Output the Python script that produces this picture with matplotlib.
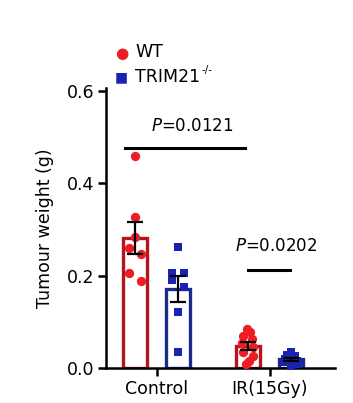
import numpy as np
import matplotlib
matplotlib.use("Agg")
import matplotlib.pyplot as plt

plt.rcParams['font.family'] = ['DejaVu Sans']
plt.rcParams['mathtext.fontset'] = 'dejavusans'

groups = ['Control', 'IR(15Gy)']
wt_ctrl = [0.459, 0.327, 0.284, 0.260, 0.247, 0.206, 0.188]
ko_ctrl = [0.262, 0.206, 0.206, 0.190, 0.175, 0.121, 0.035]
wt_ir = [0.085, 0.078, 0.070, 0.062, 0.055, 0.045, 0.035, 0.025, 0.015, 0.008]
ko_ir = [0.035, 0.028, 0.025, 0.020, 0.015, 0.012, 0.008, 0.005]
p_vals = ['0.0121', '0.0202']

wt_red = '#ee1c24'
wt_edge = '#b5141e'
ko_blue = '#1a22b0'
ko_edge = '#1c2a8c'

# jitter offsets for dots (fraction of bar width)
wt_ctrl_dx = [0, 0, 0, -0.25, 0.25, -0.25, 0.25]
ko_ctrl_dx = [0, -0.25, 0.25, -0.25, 0.25, 0, 0]
wt_ir_dx = [-0.05, 0.1, -0.2, 0.15, -0.25, 0.2, -0.2, 0.2, 0.05, -0.1]
ko_ir_dx = [0, -0.15, 0.15, -0.25, 0.25, -0.3, 0.3, 0]

fig = plt.figure(figsize=(3.53, 4.03), dpi=100)
ax = fig.add_axes([0.300, 0.087, 0.649, 0.695])

off = 0.19
w = 0.21
x = np.arange(len(groups))

def draw(xc, vals, dx, fc, ec, marker, s):
    vals = np.array(vals)
    m = vals.mean()
    sem = vals.std(ddof=1) / np.sqrt(len(vals))
    ax.bar(xc, m, width=w, facecolor='white', edgecolor=ec, linewidth=2.4, zorder=2)
    ax.scatter(xc + np.array(dx) * w, vals, color=fc, marker=marker, s=s,
               zorder=3, clip_on=False, linewidths=0)
    ax.errorbar(xc, m, yerr=sem, color='black', capsize=6, elinewidth=1.6,
                capthick=1.6, zorder=4)

draw(x[0] - off, wt_ctrl, wt_ctrl_dx, wt_red, wt_edge, 'o', 45)
draw(x[0] + off, ko_ctrl, ko_ctrl_dx, ko_blue, ko_edge, 's', 36)
draw(x[1] - off, wt_ir, wt_ir_dx, wt_red, wt_edge, 'o', 45)
draw(x[1] + off, ko_ir, ko_ir_dx, ko_blue, ko_edge, 's', 36)

# significance lines
ax.plot([-0.28, 0.78], [0.476, 0.476], color='black', lw=2.2, clip_on=False)
ax.text(0.32, 0.512, '$\\it{P}$=' + p_vals[0], ha='center', va='baseline', fontsize=12)
ax.plot([0.81, 1.18], [0.212, 0.212], color='black', lw=2.2, clip_on=False)
ax.text(1.06, 0.252, '$\\it{P}$=' + p_vals[1], ha='center', va='baseline', fontsize=12)

ax.set_xlim(-0.45, 1.58)
ax.set_ylim(0, 0.606)
ax.set_yticks([0.0, 0.2, 0.4, 0.6])
ax.set_yticklabels(['0.0', '0.2', '0.4', '0.6'])
ax.set_xticks(x)
ax.set_xticklabels(groups)
ax.tick_params(axis='both', labelsize=12.5, width=1.8, length=5.5, pad=3)
for s in ['top', 'right']:
    ax.spines[s].set_visible(False)
for s in ['left', 'bottom']:
    ax.spines[s].set_linewidth(1.8)
ax.set_ylabel('Tumour weight (g)', fontsize=12.5, labelpad=9)

# legend
fig.text(122 / 353, 1 - 53 / 403, '●', color=wt_red, fontsize=11, ha='center', va='center')
fig.text(135 / 353, 1 - 52 / 403, 'WT', fontsize=12.5, ha='left', va='center')
fig.text(121 / 353, 1 - 77 / 403, '■', color=ko_blue, fontsize=10, ha='center', va='center')
fig.text(135 / 353, 1 - 77 / 403, 'TRIM21', fontsize=12.5, ha='left', va='center')
fig.text(202 / 353, 1 - 70 / 403, '-/-', fontsize=7.5, ha='left', va='center')

fig.savefig('out.png', dpi=100)
